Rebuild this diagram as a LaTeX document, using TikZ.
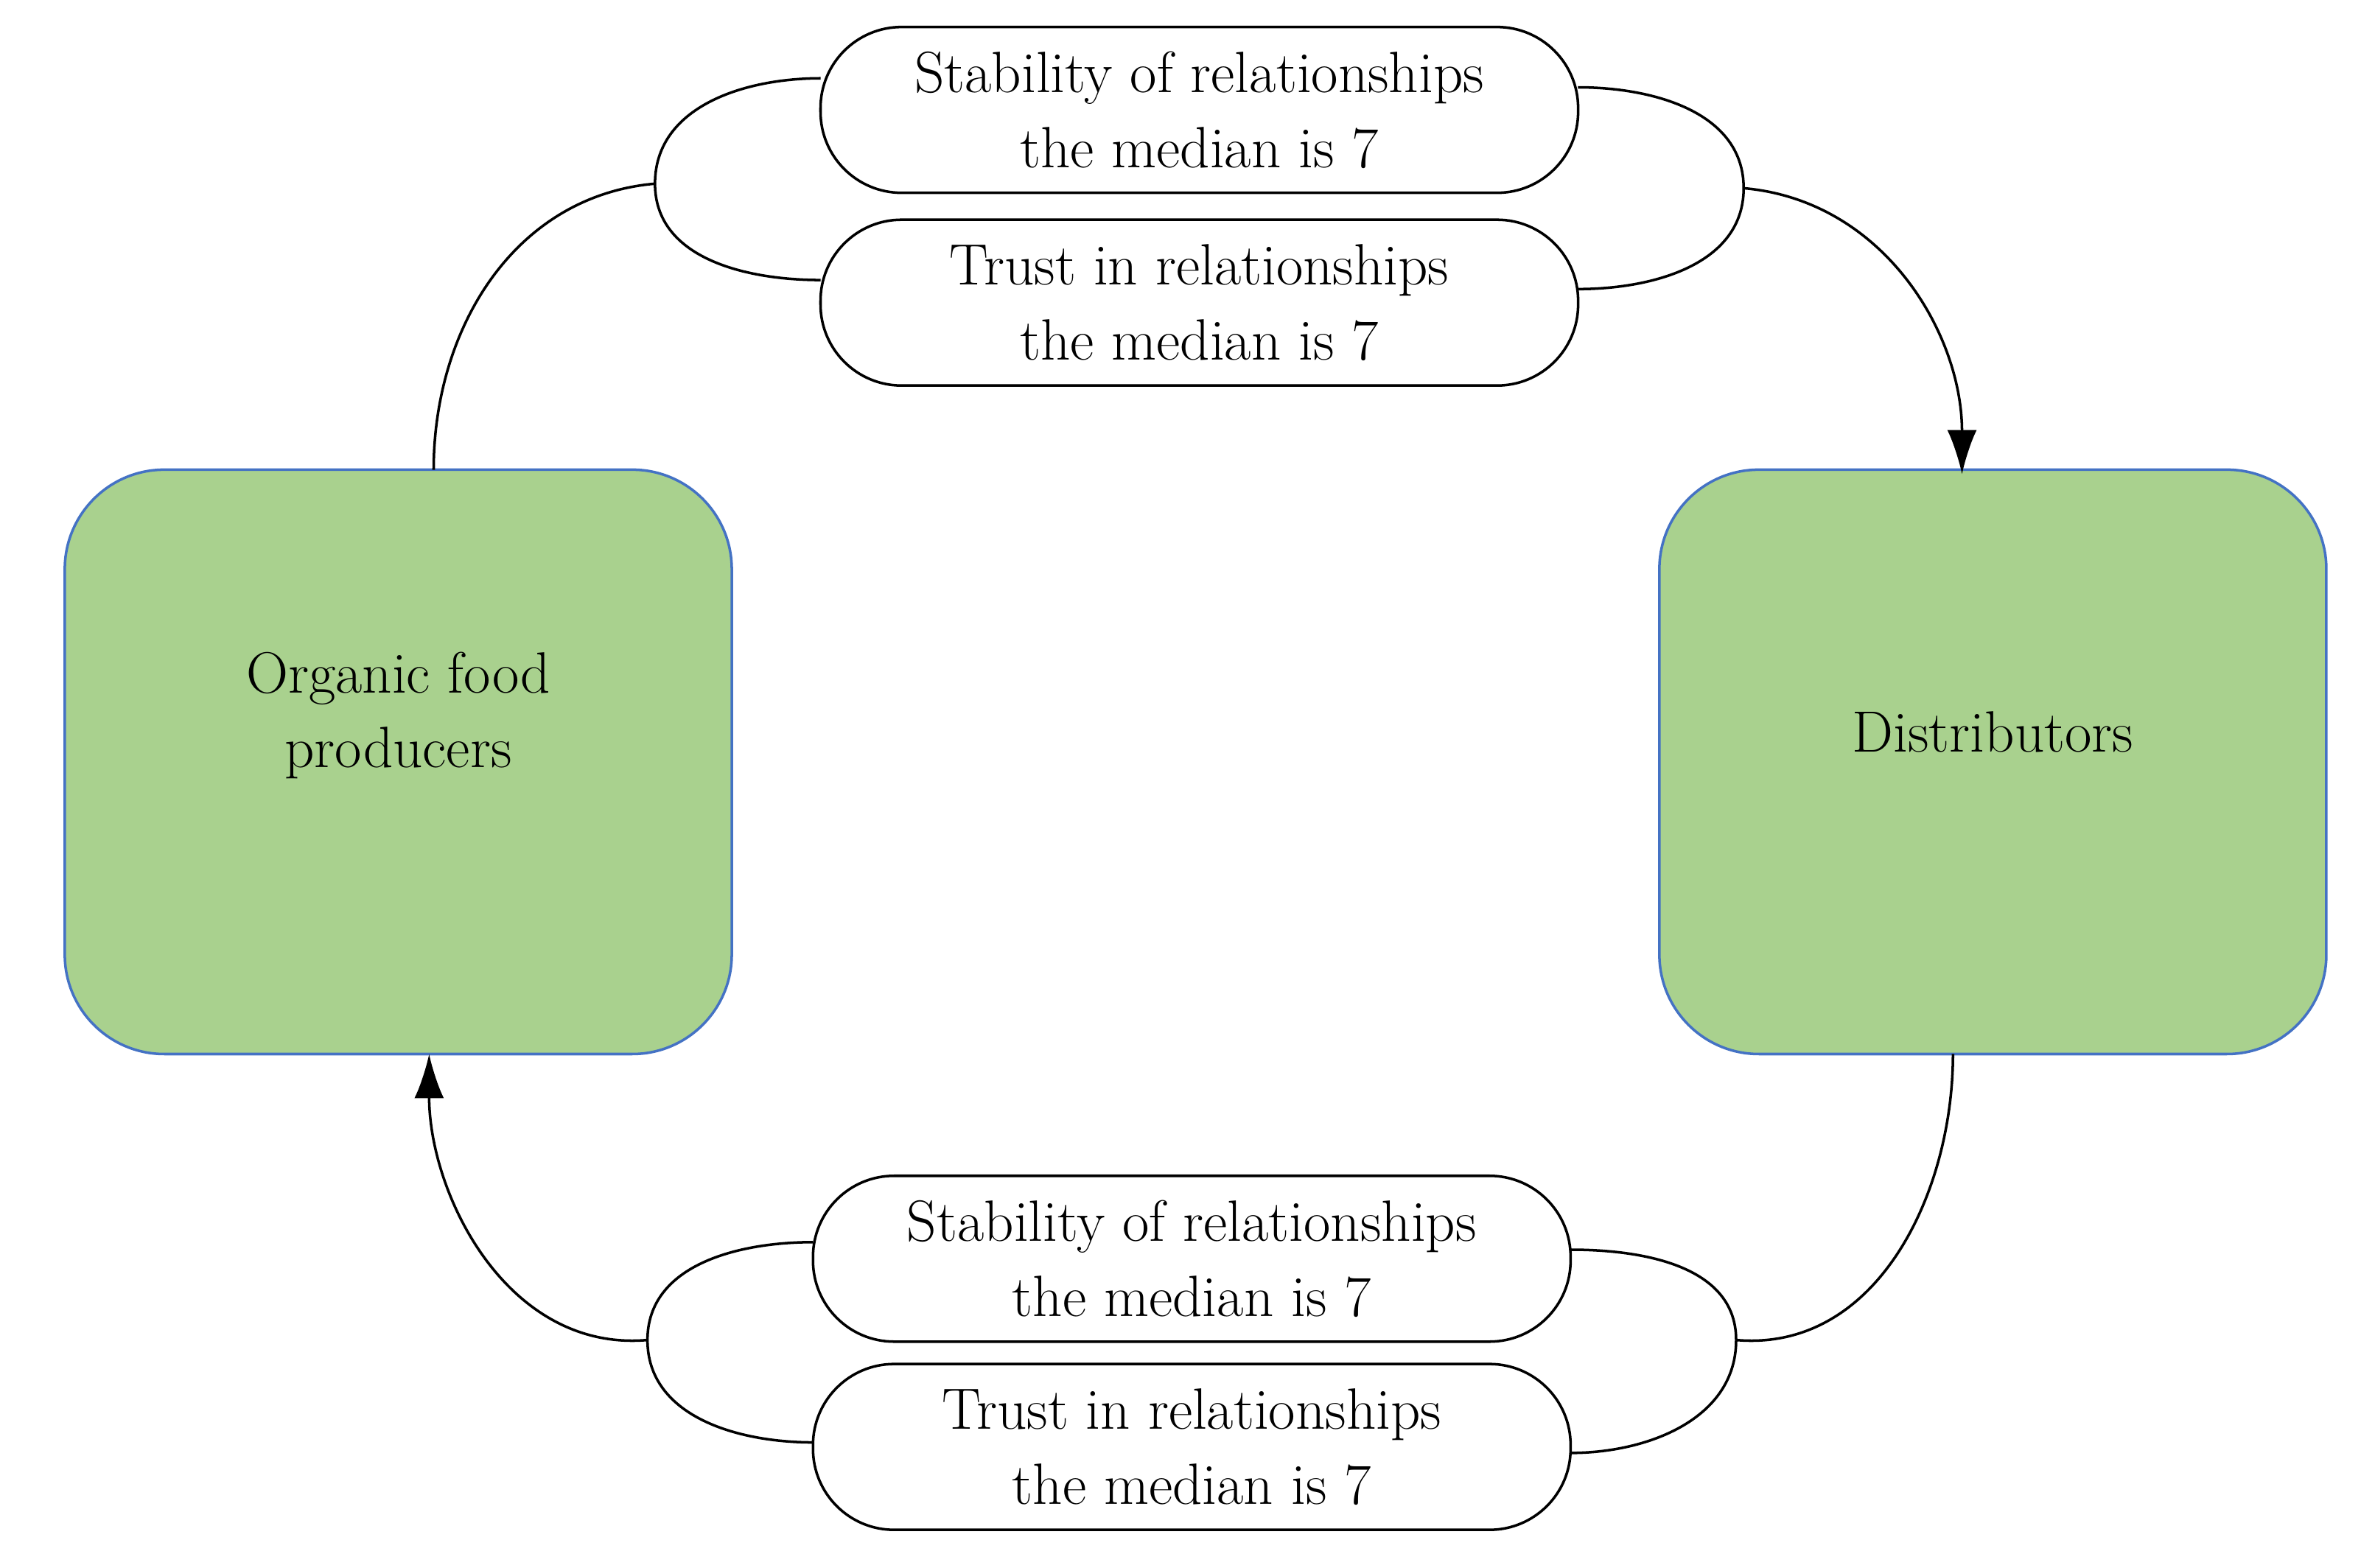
\documentclass[tikz,border=0pt]{standalone}
\usetikzlibrary{arrows.meta}
\definecolor{gfill}{HTML}{A9D18E}
\definecolor{gdraw}{HTML}{4472C4}
\begin{document}
\begin{tikzpicture}[x=0.02043cm,y=-0.02043cm,
  txt/.style={align=center,font=\fontsize{22.5}{29}\selectfont},
  pill/.style={draw,line width=1pt,rounded corners=1.1cm,minimum width=10.28cm,minimum height=2.25cm,txt,fill=white,inner sep=0pt},
  box/.style={draw=gdraw,line width=1pt,fill=gfill,rounded corners=1.35cm,minimum width=9.05cm,minimum height=7.93cm},
  con/.style={line width=1pt},
  arr/.style={con,-{Latex[length=0.6cm,width=0.4cm]}}]
\useasboundingbox (0,0) rectangle (1568,1041);
\node[box] (L) at (264.5,506) {};
\node[box] (R) at (1323.5,506) {};
\node[txt] (Lt) at ([yshift=0.63cm]L.center) {Organic food\\producers};
\node[txt] (Rt) at ([yshift=0.41cm]R.center) {Distributors};
\node[pill] (s1) at (796.5,73) {Stability of relationships\\the median is 7};
\node[pill] (t1) at (796.5,201) {Trust in relationships\\the median is 7};
\node[pill] (s2) at (791.5,836) {Stability of relationships\\the median is 7};
\node[pill] (t2) at (791.5,961) {Trust in relationships\\the median is 7};
\coordinate (a1) at (545,52); \coordinate (a2) at (545,186);
\coordinate (b1) at (1048,58); \coordinate (b2) at (1048,192);
\coordinate (c1) at (540,825); \coordinate (c2) at (540,958);
\coordinate (d1) at (1043,830); \coordinate (d2) at (1043,965);
\coordinate (cl) at (435,122); \coordinate (cr) at (1158,125);
\coordinate (dl) at (430,890); \coordinate (dr) at (1153,890);
\coordinate (Ltop) at (288,312); \coordinate (Rtop) at (1303,315);
\coordinate (Lbot) at (285,700); \coordinate (Rbot) at (1297,700);
\draw[con] (a1) to[out=180,in=90] (cl) to[out=-90,in=180] (a2);
\draw[con] (b1) to[out=0,in=90] (cr) to[out=-90,in=0] (b2);
\draw[con] (c1) to[out=180,in=90] (dl) to[out=-90,in=180] (c2);
\draw[con] (d1) to[out=0,in=90] (dr) to[out=-90,in=0] (d2);
\draw[con] (cl) to[out=185,in=90] (Ltop);
\draw[arr] (cr) to[out=-5,in=90] (Rtop);
\draw[con] (Rbot) to[out=-90,in=-5] (dr);
\draw[arr] (dl) to[out=185,in=-90] (Lbot);
\end{tikzpicture}
\end{document}
